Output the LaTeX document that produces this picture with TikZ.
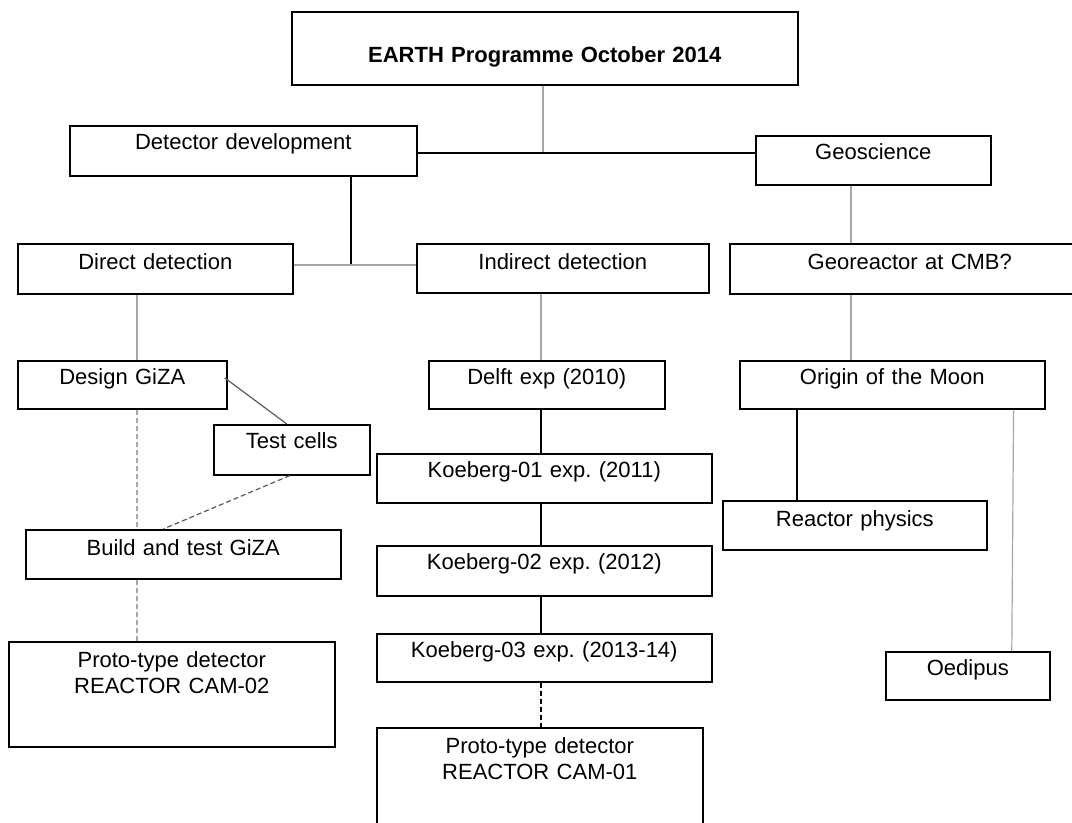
\documentclass[tikz,border=0pt]{standalone}
\usepackage{fontspec}
\setmainfont{Liberation Sans}
\frenchspacing
\begin{document}
\begin{tikzpicture}[x=0.5pt,y=-0.5pt,
	box/.style={draw, line width=0.8pt, inner sep=0pt, anchor=north west, align=center, text height=12pt, font=\fontsize{11}{13}\selectfont},
	grayline/.style={line width=0.6pt, gray!70},
	darkline/.style={line width=0.6pt, black!65},
	blackline/.style={line width=0.6pt, black},
	dashline/.style={dash pattern=on 2.5pt off 1.5pt}]
	\useasboundingbox (0,0) rectangle (1072,823);
	\clip (0,0) rectangle (1072,823);
	% boxes
	\node[box, text width=253pt, text height=25.5pt, text depth=11pt, font=\fontsize{11}{13}\selectfont\bfseries] (earth) at (291,11) {EARTH Programme October 2014};
	\node[box, text width=173.5pt, text depth=13pt] (devel) at (69,125) {Detector development};
	\node[box, text width=117.5pt, text depth=12.5pt] (geo) at (755,135) {Geoscience};
	\node[box, text width=137.5pt, text height=13pt, text depth=12pt] (direct) at (17,243) {Direct detection};
	\node[box, text width=146pt, text height=13pt, text depth=11.5pt] (indirect) at (416,243) {Indirect detection};
	\node[box, text width=180pt, text height=13pt, text depth=12pt, xshift=-9pt] (georeactor) at (747,243) {Georeactor at CMB?};
	\node[box, text width=104.5pt, text depth=12pt] (design) at (17,360) {Design GiZA};
	\node[box, text width=118pt, text depth=12pt] (delft) at (428,360) {Delft exp (2010)};
	\node[box, text width=152.5pt, text depth=12pt] (origin) at (739,360) {Origin of the Moon};
	\node[box, text width=78pt, text depth=13pt] (testcells) at (213,424) {Test cells};
	\node[box, text width=167.5pt, text depth=12.5pt] (koeberg1) at (376,453) {Koeberg-01 exp. (2011)};
	\node[box, text width=132pt, text height=13pt, text depth=11.5pt] (reactor) at (722,500) {Reactor physics};
	\node[box, text width=157.5pt, text height=13pt, text depth=11.5pt] (build) at (25,529) {Build and test GiZA};
	\node[box, text width=167.5pt, text depth=13pt] (koeberg2) at (376,545) {Koeberg-02 exp. (2012)};
	\node[box, text width=167.5pt, text depth=12pt] (koeberg3) at (376,633) {Koeberg-03 exp. (2013-14)};
	\node[box, text width=163pt, text height=13pt, text depth=39.5pt] (cam2) at (8,641) {Proto-type detector\\REACTOR CAM-02};
	\node[box, text width=82pt, text depth=12pt] (oedipus) at (885,651) {Oedipus};
	\node[box, text width=163pt, text height=13pt, text depth=47pt] (cam1) at (376,727) {Proto-type detector\\REACTOR CAM-01};
	% junctions
	\coordinate (top) at (543,153);
	\coordinate (mid) at (351,265);
	\coordinate (c1) at (137,0);
	\coordinate (c2) at (541,0);
	\coordinate (c3) at (851,0);
	\coordinate (c4) at (797,0);
	% links
	\draw[grayline] (earth.south -| top) -- (top);
	\draw[blackline] (devel.east |- top) -- (geo.west |- top);
	\draw[blackline] (devel.south -| mid) -- (mid);
	\draw[grayline] (direct.east |- mid) -- (indirect.west |- mid);
	\draw[grayline] (geo.south -| c3) -- (georeactor.north -| c3);
	\draw[grayline] (direct.south -| c1) -- (design.north -| c1);
	\draw[grayline] (indirect.south -| c2) -- (delft.north -| c2);
	\draw[grayline] (georeactor.south -| c3) -- (origin.north -| c3);
	\draw[darkline] ([xshift=-1.5pt,yshift=3.5pt]design.east) -- ([xshift=-2.5pt]testcells.north);
	\draw[grayline, dashline] (design.south -| c1) -- (build.north -| c1);
	\draw[darkline, dashline] ([xshift=-1pt]testcells.south) -- ([xshift=-10pt]build.north);
	\draw[grayline, dashline] (build.south -| c1) -- (cam2.north -| c1);
	\draw[blackline] (delft.south -| c2) -- (koeberg1.north -| c2);
	\draw[blackline] (koeberg1.south -| c2) -- (koeberg2.north -| c2);
	\draw[blackline] (koeberg2.south -| c2) -- (koeberg3.north -| c2);
	\draw[blackline, dashline] (koeberg3.south -| c2) -- (cam1.north -| c2);
	\draw[blackline] (origin.south -| c4) -- (reactor.north -| c4);
	\draw[grayline] ([xshift=-16pt]origin.south east) -- ([xshift=22pt]oedipus.north);
\end{tikzpicture}
\end{document}
